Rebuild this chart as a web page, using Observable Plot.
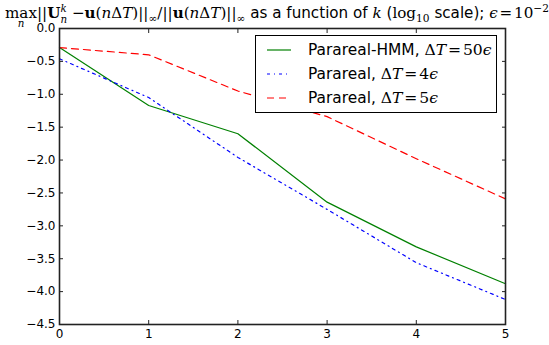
<!DOCTYPE html>
<html>
<head>
<meta charset="utf-8">
<script src="https://cdn.jsdelivr.net/npm/d3@7"></script>
<script src="https://cdn.jsdelivr.net/npm/@observablehq/plot@0.6"></script>
<style>
  html, body { margin: 0; padding: 0; background: #fff; }
  #wrap { position: relative; width: 549px; height: 345px; overflow: hidden; font-family: "DejaVu Sans", sans-serif; }
  #title { position: absolute; left: 5px; top: 3px; white-space: nowrap; font-size: 15.6px; line-height: 1; transform-origin: 0 0; }
  .m { font-family: "DejaVu Serif", "Liberation Serif", serif; font-size: 15.6px; }
  .m i { font-style: italic; }
  .op { display: inline-block; position: relative; }
  .op .under { position: absolute; left: 50%; transform: translateX(-50%); top: 1.15em; font-size: 0.68em; line-height: 1; font-style: italic; }
  .ss { display: inline-block; vertical-align: -0.42em; line-height: 1.0; font-size: 0.68em; text-align: left; }
  .ss span { display: block; line-height: 1.0; }
  sub, sup { font-size: 0.7em; line-height: 0; }
  .sp { margin: 0 0.12em; }
  #legend { position: absolute; left: 255px; top: 35px; width: 240px; height: 76px; border: 1px solid #000; background: #fff; }
  .entry { position: absolute; left: 0; height: 20px; width: 100%; }
  .entry svg { position: absolute; left: 11px; top: 0; }
  .entry .lab { position: absolute; left: 52px; top: 0px; font-size: 15.4px; white-space: nowrap; line-height: 20px; }
</style>
</head>
<body>
<div id="wrap">
  <div id="chart"></div>
  <div id="title">
    <span class="m"><span class="op">max<span class="under">n</span></span>||<b>U</b><span class="ss"><span><i>k</i></span><span><i>n</i></span></span> −<b>u</b>(<i>n</i>Δ<i>T</i>)||<sub>∞</sub>/||<b>u</b>(<i>n</i>Δ<i>T</i>)||<sub>∞</sub></span> as a function of <span class="m"><i>k</i></span> (<span class="m">log<sub>10</sub></span> scale); <span class="m"><i>ϵ</i><span class="sp">=</span>10<sup>−2</sup></span>
  </div>
  <div id="legend"></div>
</div>
<script>
const kValues = [0, 1, 2, 3, 4, 5];
const hmmErr = [-0.29, -1.17, -1.60, -2.64, -3.32, -3.88];
const p4Err  = [-0.46, -1.05, -1.96, -2.75, -3.56, -4.12];
const p5Err  = [-0.29, -0.40, -0.95, -1.34, -1.98, -2.59];
const xTicks = [0, 1, 2, 3, 4, 5];
const yTicks = [-4.5, -4.0, -3.5, -3.0, -2.5, -2.0, -1.5, -1.0, -0.5, 0.0];

const series = [
  {name: "hmm", values: hmmErr, stroke: "#008000", dash: null, html: 'Parareal-HMM, <span class="m">Δ<i>T</i><span class="sp">=</span>50<i>ϵ</i></span>'},
  {name: "p4", values: p4Err, stroke: "#0000ff", dash: "3,4,1,4", html: 'Parareal, <span class="m">Δ<i>T</i><span class="sp">=</span>4<i>ϵ</i></span>'},
  {name: "p5", values: p5Err, stroke: "#ff0000", dash: "7,5", html: 'Parareal, <span class="m">Δ<i>T</i><span class="sp">=</span>5<i>ϵ</i></span>'}
];

const fmt = d => d.toFixed(1).replace("-", "\u2212");
const tickColor = "#222";

const lineMarks = series.map(s => Plot.line(kValues.map((k, i) => ({k, v: s.values[i]})), {
  x: "k", y: "v", stroke: s.stroke, strokeWidth: 1.2, strokeDasharray: s.dash
}));

const chart = Plot.plot({
  width: 549,
  height: 345,
  marginTop: 28,
  marginBottom: 21,
  marginLeft: 59,
  marginRight: 44,
  style: {fontFamily: "DejaVu Sans", fontSize: "12px", color: "#000", background: "#fff"},
  x: {domain: [0, 5], label: null},
  y: {domain: [-4.5, 0], label: null},
  marks: [
    ...lineMarks,
    Plot.axisX({ticks: xTicks, tickSize: 0, tickPadding: 5, tickFormat: d => String(d), label: null, fontSize: 12}),
    Plot.axisX({ticks: xTicks, tickSize: 4, dy: -4, tickFormat: () => "", label: null, stroke: tickColor}),
    Plot.axisX({anchor: "top", ticks: xTicks, tickSize: 4, dy: 4, tickFormat: () => "", label: null, stroke: tickColor}),
    Plot.axisY({ticks: yTicks, tickSize: 0, tickPadding: 4, tickFormat: fmt, label: null, fontSize: 12}),
    Plot.axisY({ticks: yTicks, tickSize: 4, dx: 4, tickFormat: () => "", label: null, stroke: tickColor}),
    Plot.axisY({anchor: "right", ticks: yTicks, tickSize: 4, dx: -4, tickFormat: () => "", label: null, stroke: tickColor}),
    Plot.frame({stroke: tickColor, strokeWidth: 1.6})
  ]
});
document.getElementById("chart").appendChild(chart);

// legend
const legend = document.getElementById("legend");
series.forEach((s, i) => {
  const e = document.createElement("div");
  e.className = "entry";
  e.style.top = (4 + i * 24) + "px";
  e.innerHTML = `<svg width="24" height="20"><line x1="0" x2="24" y1="10" y2="10" stroke="${s.stroke}" stroke-width="1.2" ${s.dash ? `stroke-dasharray="${s.dash}"` : ""}/></svg><span class="lab">${s.html}</span>`;
  legend.appendChild(e);
});

// fit title to its width in the reference
const title = document.getElementById("title");
const w = title.getBoundingClientRect().width;
const target = 544;
title.style.transform = `scaleX(${target / w})`;
</script>
</body>
</html>
